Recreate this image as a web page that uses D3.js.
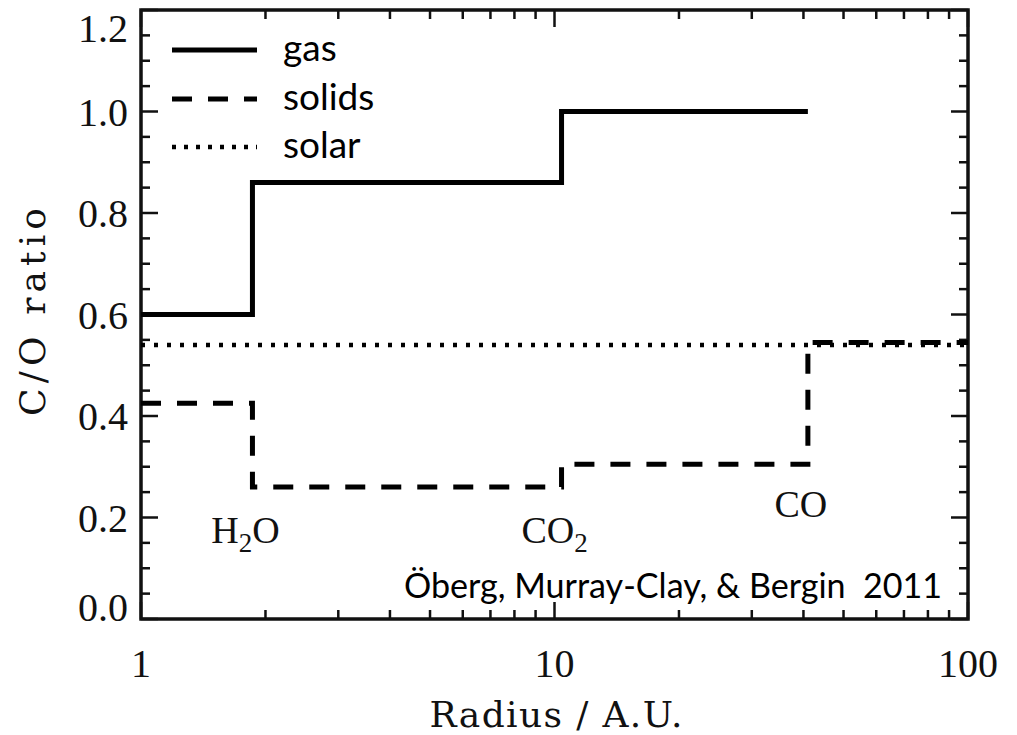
<!DOCTYPE html>
<html>
<head>
<meta charset="utf-8">
<script src="https://cdn.jsdelivr.net/npm/d3@7"></script>
<style>
  body { margin: 0; background: #fff; }
  .tick-label { font-family: "Liberation Serif", serif; font-size: 40px; fill: #111; }
  .title { font-family: "DejaVu Serif", serif; font-size: 36px; fill: #111; }
  .ice { font-family: "Liberation Serif", serif; font-size: 38px; fill: #111; }
  .sans { font-family: Lato, "Open Sans", sans-serif; fill: #000; }
</style>
</head>
<body>
<div id="chart"></div>
<script>
// snowline radii (A.U.) for H2O, CO2, CO
var iceNames = ['H2O', 'CO2', 'CO'],
	snowlines = [1.86, 10.4, 41];

// gas-phase C/O, step after each radius
var gasRadius = [1, 1.86, 10.4, 41],
	gasCO = [0.60, 0.86, 1.00, 1.00];

// solid-phase C/O
var solidsRadius = [1, 1.86, 10.4, 41, 100],
	solidsCO = [0.425, 0.26, 0.305, 0.545, 0.545];

// solar value
var solarRadius = [1, 100],
	solarCO = [0.54, 0.54];

var xTicks = [1, 10, 100],
	xTickLabels = ['1', '10', '100'],
	yTicks = [0, 0.2, 0.4, 0.6, 0.8, 1.0, 1.2],
	yTickLabels = ['0.0', '0.2', '0.4', '0.6', '0.8', '1.0', '1.2'];

var legendNames = ['gas', 'solids', 'solar'];

var W = 1017, H = 735,
	pLeft = 141, pRight = 968, pTop = 10, pBottom = 619;

var svg = d3.select('#chart').append('svg')
	.attr('width', W)
	.attr('height', H);

svg.append('rect').attr('width', W).attr('height', H).attr('fill', '#fff');

var x = d3.scaleLog().domain([1, 100]).range([pLeft, pRight]);
var y = d3.scaleLinear().domain([0, 1.2]).range([pBottom, pTop]);

// minor ticks
var xMinor = [];
[1, 10].forEach(function(dec) {
	for (var k = 2; k <= 9; k++) xMinor.push(dec * k);
});
var yMinor = d3.range(0, 1.2001, 0.05).filter(function(v) {
	return Math.abs(v * 5 - Math.round(v * 5)) > 1e-6;
});

var majorLen = 17, minorLen = 9;

// all ticks point inward on all four sides
var tickG = svg.append('g').attr('stroke', '#111').attr('stroke-width', 2.5);

function xTickLines(vals, len) {
	tickG.selectAll(null).data(vals).enter().append('line')
		.attr('x1', function(d) { return x(d); }).attr('x2', function(d) { return x(d); })
		.attr('y1', pBottom).attr('y2', pBottom - len);
	tickG.selectAll(null).data(vals).enter().append('line')
		.attr('x1', function(d) { return x(d); }).attr('x2', function(d) { return x(d); })
		.attr('y1', pTop).attr('y2', pTop + len);
}
function yTickLines(vals, len) {
	tickG.selectAll(null).data(vals).enter().append('line')
		.attr('y1', function(d) { return y(d); }).attr('y2', function(d) { return y(d); })
		.attr('x1', pLeft).attr('x2', pLeft + len);
	tickG.selectAll(null).data(vals).enter().append('line')
		.attr('y1', function(d) { return y(d); }).attr('y2', function(d) { return y(d); })
		.attr('x1', pRight).attr('x2', pRight - len);
}
xTickLines(xTicks, majorLen);
xTickLines(xMinor, minorLen);
yTickLines(yTicks, majorLen);
yTickLines(yMinor, minorLen);

// frame
svg.append('rect')
	.attr('x', pLeft).attr('y', pTop)
	.attr('width', pRight - pLeft).attr('height', pBottom - pTop)
	.attr('fill', 'none').attr('stroke', '#111').attr('stroke-width', 3.5);

// tick labels
svg.selectAll('.xlab').data(xTicks).enter().append('text')
	.attr('class', 'tick-label')
	.attr('x', function(d) { return x(d); })
	.attr('y', 677)
	.attr('text-anchor', 'middle')
	.text(function(d, i) { return xTickLabels[i]; });

svg.selectAll('.ylab').data(yTicks).enter().append('text')
	.attr('class', 'tick-label')
	.attr('x', 128)
	.attr('y', function(d, i) {
		var shift = 0;
		if (i == 0) shift = -12;
		if (i == yTicks.length - 1) shift = 18;
		return y(d) + shift + 14;
	})
	.attr('text-anchor', 'end')
	.text(function(d, i) { return yTickLabels[i]; });

// axis titles
svg.append('text').attr('class', 'title')
	.attr('x', 556).attr('y', 727)
	.attr('text-anchor', 'middle')
	.attr('textLength', 253).attr('lengthAdjust', 'spacing')
	.text('Radius / A.U.');

svg.append('text').attr('class', 'title')
	.attr('transform', 'translate(45,312) rotate(-90)')
	.attr('text-anchor', 'middle')
	.attr('textLength', 208).attr('lengthAdjust', 'spacing')
	.text('C/O ratio');

// data lines
var line = d3.line()
	.x(function(d) { return x(d[0]); })
	.y(function(d) { return y(d[1]); })
	.curve(d3.curveStepAfter);

var styles = [
	{ dash: null, width: 5 },
	{ dash: '20,16', width: 5 },
	{ dash: '4,9', width: 4.5 }
];

var series = [
	d3.zip(gasRadius, gasCO),
	d3.zip(solidsRadius, solidsCO),
	d3.zip(solarRadius, solarCO)
];

svg.selectAll('.series').data(series).enter().append('path')
	.attr('d', line)
	.attr('fill', 'none')
	.attr('stroke', '#000')
	.attr('stroke-width', function(d, i) { return styles[i].width; })
	.attr('stroke-dasharray', function(d, i) { return styles[i].dash; });

// snowline labels
var iceLabels = svg.selectAll('.ice').data(snowlines).enter().append('text')
	.attr('class', 'ice')
	.attr('text-anchor', 'middle')
	.attr('x', function(d) { return x(d) - 7; })
	.attr('y', function(d, i) { return i == 2 ? 517 : 543; });

iceLabels.each(function(d, i) {
	var t = d3.select(this);
	if (i == 0) {
		t.append('tspan').text('H');
		t.append('tspan').attr('dy', 9).attr('font-size', '27px').text('2');
		t.append('tspan').attr('dy', -9).text('O');
	} else if (i == 1) {
		t.append('tspan').text('CO');
		t.append('tspan').attr('dy', 9).attr('font-size', '27px').text('2');
	} else {
		t.text('CO');
	}
});

// legend
var legendY = [50, 99, 147];
var lg = svg.selectAll('.legend').data(legendNames).enter().append('g');
lg.append('line')
	.attr('x1', 172).attr('x2', 257)
	.attr('y1', function(d, i) { return legendY[i]; })
	.attr('y2', function(d, i) { return legendY[i]; })
	.attr('stroke', '#000')
	.attr('stroke-width', function(d, i) { return styles[i].width; })
	.attr('stroke-dasharray', function(d, i) { return i == 2 ? '4,8' : styles[i].dash; });
lg.append('text')
	.attr('class', 'sans')
	.attr('x', 283)
	.attr('y', function(d, i) { return legendY[i] + 11; })
	.attr('font-size', '37px')
	.text(function(d) { return d; });

// citation, sized to span its width in the reference
var cite = svg.append('text')
	.attr('class', 'sans')
	.attr('x', 404).attr('y', 598)
	.attr('font-size', '32px')
	.attr('xml:space', 'preserve')
	.style('white-space', 'pre')
	.text('Öberg, Murray-Clay, & Bergin  2011');
var len = cite.node().getComputedTextLength();
cite.attr('font-size', (32 * 538 / len).toFixed(1) + 'px');
</script>
</body>
</html>
